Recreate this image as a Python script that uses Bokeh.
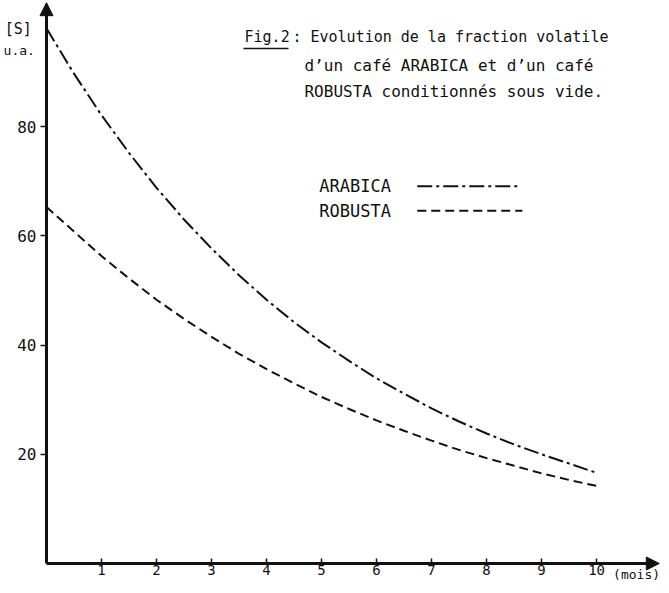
from bokeh.plotting import figure
from bokeh.models import Label, Arrow, NormalHead, FixedTicker, ColumnDataSource
from bokeh.embed import file_html
from bokeh.resources import INLINE

# Data (months, [S] u.a.)
months = [0, 0.5, 1, 1.5, 2, 2.5, 3, 3.5, 4, 4.5, 5, 5.5, 6, 6.5, 7, 7.5, 8, 8.5, 9, 9.5, 10]
arabica = [98.0, 89.7, 82.1, 75.2, 68.8, 63.0, 57.7, 52.8, 48.3, 44.2, 40.5, 37.1, 33.9, 31.1,
           28.4, 26.0, 23.8, 21.8, 20.0, 18.3, 16.6]
robusta = [65.3, 60.8, 56.3, 52.2, 48.3, 44.8, 41.5, 38.4, 35.6, 33.0, 30.5, 28.3, 26.2, 24.3,
           22.5, 20.8, 19.3, 17.9, 16.5, 15.3, 14.2]
x_ticks = [1, 2, 3, 4, 5, 6, 7, 8, 9, 10]
y_ticks = [20, 40, 60, 80]
series_names = ["ARABICA", "ROBUSTA"]
caption = ["Fig.2", ": Evolution de la fraction volatile",
           "d\u2019un caf\u00e9 ARABICA et d\u2019un caf\u00e9",
           "ROBUSTA conditionn\u00e9s sous vide."]

FONT = "DejaVu Sans Mono"
INK = "#111111"

p = figure(width=661, height=585, x_range=(-0.836, 11.18), y_range=(-4.03, 103.1),
           output_backend="svg", toolbar_location=None,
           min_border=0, min_border_left=0, min_border_right=0,
           min_border_top=0, min_border_bottom=0)
p.outline_line_color = None
p.grid.visible = False
p.background_fill_color = "white"
p.border_fill_color = "white"

src = ColumnDataSource(dict(m=months, a=arabica, r=robusta))
p.line("m", "a", source=src, line_color=INK, line_width=2, line_dash="15 4 3 4")
p.line("m", "r", source=src, line_color=INK, line_width=2, line_dash="9 5")

# axes drawn through the origin
for ax in (p.xaxis[0], p.yaxis[0]):
    ax.fixed_location = 0
    ax.axis_line_width = 3
    ax.axis_line_color = INK
    ax.major_tick_line_color = INK
    ax.major_tick_line_width = 1.5
    ax.minor_tick_line_color = None
    ax.major_label_text_font = FONT
    ax.major_label_text_color = INK

p.xaxis[0].bounds = (0, 11.0)
p.xaxis[0].ticker = FixedTicker(ticks=x_ticks)
p.xaxis[0].major_tick_in = 5
p.xaxis[0].major_tick_out = 0
p.xaxis[0].major_label_standoff = 2
p.xaxis[0].major_label_text_font_size = "14px"

p.yaxis[0].bounds = (0, 101)
p.yaxis[0].ticker = FixedTicker(ticks=y_ticks)
p.yaxis[0].major_tick_in = 0
p.yaxis[0].major_tick_out = 6
p.yaxis[0].major_label_standoff = 4
p.yaxis[0].major_label_text_font_size = "16px"
p.yaxis[0].major_label_orientation = "horizontal"

# arrow heads
p.add_layout(Arrow(x_start=0, y_start=99, x_end=0, y_end=102.7,
                   end=NormalHead(size=13, fill_color=INK, line_color=INK),
                   line_color=INK, line_width=3))
p.add_layout(Arrow(x_start=10.7, y_start=0, x_end=11.14, y_end=0,
                   end=NormalHead(size=13, fill_color=INK, line_color=INK),
                   line_color=INK, line_width=3))

def lab(x, y, t, size="15px", align="left"):
    p.add_layout(Label(x=x, y=y, text=t, text_font=FONT, text_font_size=size,
                       text_color=INK, text_align=align, text_baseline="middle"))

# y-axis unit labels
lab(-0.76, 97.8, "[S]", "15px")
lab(-0.78, 94.0, "u.a.", "13px")
# month unit
lab(10.3, -2.1, "(mois)", "13px")

# caption
lab(3.6, 96.4, caption[0], "15px")
p.line([3.58, 4.4], [94.3, 94.3], line_color=INK, line_width=1.5)
lab(4.47, 96.4, caption[1], "15px")
lab(4.69, 91.2, caption[2], "16px")
lab(4.69, 86.5, caption[3], "16px")

# legend
lab(4.96, 69.1, series_names[0], "17px")
lab(4.96, 64.6, series_names[1], "17px")
p.line([6.74, 8.6], [69.1, 69.1], line_color=INK, line_width=2, line_dash="15 4 3 4")
p.line([6.74, 8.65], [64.6, 64.6], line_color=INK, line_width=2, line_dash="9 5")

open("out.html", "w").write(file_html(p, INLINE))
